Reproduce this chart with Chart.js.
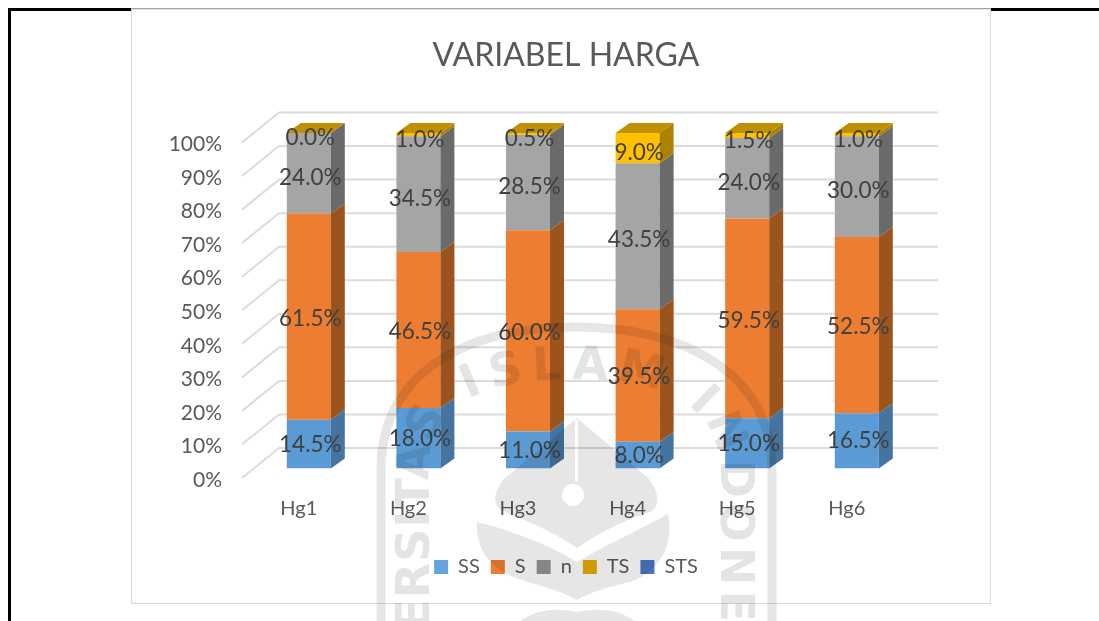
<!DOCTYPE html>
<html><head><meta charset="utf-8">
<style>
html,body{margin:0;padding:0;background:#fff;width:1099px;height:621px;overflow:hidden}
.f{position:absolute}
#chartWrap{position:absolute;left:0;top:0;width:1099px;height:621px;filter:blur(0.45px)}
#wm{position:absolute;left:0;top:0;mix-blend-mode:multiply;filter:blur(0.4px)}
</style>
<script src="https://cdn.jsdelivr.net/npm/chart.js@4"></script>
</head><body>
<div class="f" style="left:8px;top:8px;width:3px;height:613px;background:#000"></div>
<div class="f" style="left:8px;top:8px;width:123px;height:3px;background:#000"></div>
<div class="f" style="left:991px;top:8px;width:108px;height:3px;background:#000"></div>
<div class="f" style="left:131px;top:8px;width:860px;height:1px;background:#a6a6a6"></div>
<div class="f" style="left:131px;top:9px;width:858px;height:593px;border:1px solid #d9d9d9;border-top-color:#e6e6e6"></div>
<div id="chartWrap"><canvas id="c" width="1099" height="621"></canvas></div>
<svg id="wm" width="1099" height="621" viewBox="0 0 1099 621" xmlns="http://www.w3.org/2000/svg">
<rect width="1099" height="621" fill="#fff"/>
<defs><path id="arc" d="M429,770 L429,470 C429,400 490,379 575,379 C660,379 721,400 721,480 L721,720"/></defs>
<path d="M381,621 L381,470 C381,370 470,327 575,327 C680,327 772,370 772,470 L772,621" fill="none" stroke="#e6e6e6" stroke-width="9"/>
<g font-family="DejaVu Sans, sans-serif" font-size="46" font-weight="700" fill="#e4e4e4">
<text letter-spacing="1" text-anchor="end"><textPath href="#arc" startOffset="360">UNIVERSITAS</textPath></text>
<text letter-spacing="9"><textPath href="#arc" startOffset="385">ISLAM</textPath></text>
<text letter-spacing="5"><textPath href="#arc" startOffset="612">INDONESIA</textPath></text>
</g>
<path d="M577,418 L648,478 C662,495 658,508 650,512 C625,520 600,532 577,548 C554,532 525,520 505,512 C494,508 490,495 505,478 Z" fill="#e6e6e6"/>
<path d="M477,522 C510,530 550,545 577,562 C605,545 640,530 668,514 C674,545 660,572 630,582 C612,586 590,592 577,600 C560,590 540,586 522,580 C490,570 476,550 477,522 Z" fill="#e6e6e6"/>
<path d="M520,621 C535,610 555,607 577,612 C600,607 620,610 635,621 Z" fill="#e6e6e6"/>
<rect x="575" y="420" width="3" height="62" fill="#fff"/>
<circle cx="573" cy="495" r="11" fill="#fff"/>
</svg>
<script>
const categories = ['Hg1','Hg2','Hg3','Hg4','Hg5','Hg6'];
const seriesNames = ['SS','S','n','TS','STS'];
const valuesSS  = [14.5, 18.0, 11.0,  8.0, 15.0, 16.5];
const valuesS   = [61.5, 46.5, 60.0, 39.5, 59.5, 52.5];
const valuesN   = [24.0, 34.5, 28.5, 43.5, 24.0, 30.0];
const valuesTS  = [ 0.0,  1.0,  0.5,  9.0,  1.5,  1.0];
const valuesSTS = [ 0.0,  0.0,  0.0,  0.0,  0.0,  0.0];
const frontColors  = ['#5b9bd5','#ed7d31','#a5a5a5','#ffc000','#4472c4'];
const sideColors   = ['#44749f','#9c541f','#6a6a6a','#ac8300','#2f5597'];
const legendColors = ['#66a3da','#ed7d31','#949494','#e6ab00','#4a74c4'];
const topColor = '#c09000';
const seriesValues = [valuesSS, valuesS, valuesN, valuesTS, valuesSTS];

const FONT = 'Lato, Carlito, sans-serif';
const DX = 14, DY = 10;

const depth = {
  id:'depth',
  beforeDatasetsDraw(chart){
    const {ctx, scales:{y}} = chart;
    ctx.save();
    ctx.strokeStyle = '#dcdcdc'; ctx.lineWidth = 2;
    for(let v=0;v<=100;v+=10){
      const p = y.getPixelForValue(v);
      ctx.beginPath();
      ctx.moveTo(242,p+9.5);
      ctx.lineTo(279,p-20.5);
      ctx.lineTo(938,p-20.5);
      ctx.stroke();
    }
    ctx.restore();
  },
  afterDatasetsDraw(chart){
    const {ctx} = chart;
    ctx.save();
    const n = chart.data.datasets.length;
    chart.data.datasets.forEach((ds,d)=>{
      chart.getDatasetMeta(d).data.forEach(el=>{
        const {x,y,base,width} = el.getProps(['x','y','base','width'],true);
        const r = x+width/2;
        ctx.fillStyle = sideColors[d];
        ctx.beginPath();
        ctx.moveTo(r,y);ctx.lineTo(r+DX,y-DY);ctx.lineTo(r+DX,base-DY);ctx.lineTo(r,base);
        ctx.closePath();ctx.fill();
      });
    });
    chart.getDatasetMeta(n-1).data.forEach(el=>{
      const {x,y,width} = el.getProps(['x','y','width'],true);
      const l=x-width/2,r=x+width/2;
      ctx.fillStyle = topColor;
      ctx.beginPath();
      ctx.moveTo(l,y);ctx.lineTo(l+DX,y-DY);ctx.lineTo(r+DX,y-DY);ctx.lineTo(r,y);
      ctx.closePath();ctx.fill();
    });
    ctx.font = '22.5px '+FONT;
    ctx.fillStyle = '#404040';
    ctx.textAlign='center';ctx.textBaseline='middle';
    chart.data.datasets.forEach((ds,d)=>{
      if(d===n-1) return;
      chart.getDatasetMeta(d).data.forEach((el,i)=>{
        const {x,y,base} = el.getProps(['x','y','base'],true);
        const mid = (y+base)/2;
        const val = chart.scales.y.getValueForPixel(mid);
        ctx.fillText(ds.data[i].toFixed(1)+'%', x+1.5, mid+val*0.05);
      });
    });
    ctx.restore();
  }
};

new Chart(document.getElementById('c'),{
  type:'bar',
  plugins:[depth],
  data:{
    labels:categories,
    datasets:seriesNames.map((name,i)=>({
      label:name,
      data:seriesValues[i],
      backgroundColor:frontColors[i],
      borderWidth:0,
      barPercentage:0.4015,
      categoryPercentage:1
    }))
  },
  options:{
    responsive:false,
    animation:false,
    layout:{padding:{left:33,right:0,top:0,bottom:34}},
    plugins:{
      tooltip:{enabled:false},
      title:{
        display:true,
        text:'VARIABEL HARGA',
        color:'#595959',
        font:{family:FONT,size:32,weight:'normal',lineHeight:1.2},
        padding:{top:36,bottom:58.6}
      },
      legend:{
        position:'bottom',
        labels:{
          boxWidth:14,boxHeight:14,padding:11,
          color:'#595959',
          font:{family:FONT,size:20},
          generateLabels(chart){
            return seriesNames.map((t,i)=>({text:t,fillStyle:legendColors[i],strokeStyle:legendColors[i],lineWidth:0,fontColor:'#595959',datasetIndex:i,hidden:false}));
          }
        }
      }
    },
    scales:{
      x:{
        stacked:true,
        grid:{display:false,drawTicks:false},
        border:{display:false},
        ticks:{color:'#595959',font:{family:FONT,size:20},padding:28,labelOffset:-10,maxRotation:0},
        afterFit(s){s.height=77.5;}
      },
      y:{
        stacked:true,
        min:0,max:100,
        grid:{display:false,drawTicks:false},
        border:{display:false},
        ticks:{stepSize:10,color:'#595959',font:{family:FONT,size:21},padding:32,labelOffset:11.5,callback:v=>v+'%'},
        afterFit(s){s.width=221;}
      },
      spacer:{
        position:'right',
        min:0,max:100,
        grid:{display:false,drawTicks:false},
        border:{display:false},
        ticks:{display:false},
        afterFit(s){s.width=187.4;}
      }
    }
  }
});
</script>
</body></html>
